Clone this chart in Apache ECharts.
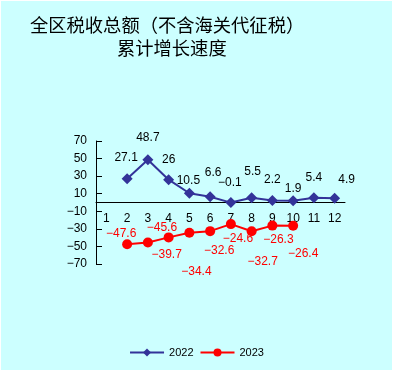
<!DOCTYPE html>
<html><head><meta charset="utf-8">
<script src="https://cdn.jsdelivr.net/npm/echarts@6/dist/echarts.min.js"></script>
<style>html,body{margin:0;padding:0;background:#fff;}#c{position:absolute;left:1px;top:1px;width:391px;height:369px;background:#CCFFFF;}</style>
</head><body><div id="c"></div>
<script>
const months = ['1','2','3','4','5','6','7','8','9','10','11','12'];
const yTicks = [-70,-50,-30,-10,10,30,50,70];
const values2022 = [null,27.1,48.7,26,10.5,6.6,-0.1,5.5,2.2,1.9,5.4,4.9];
const values2023 = [null,-47.6,-45.6,-39.7,-34.4,-32.6,-24.6,-32.7,-26.3,-26.4,null,null];
const seriesNames = ['2022','2023'];
const titleLine1 = '全区税收总额（不含海关代征税）';
const titleLine2 = '累计增长速度';

// label offsets (px) relative to each point
const off2022 = [null,[-1,-21],[0,-22],[0,-20],[-1,-13],[3,-24],[-1,-20],[1,-26],[0,-21],[0,-12],[0,-20],[12,-19]];
const off2023 = [null,[-6,-11],[14,-15],[-2,17],[7,39],[9,20],[7,15],[11,30],[6,14],[10,28]];

const font = '"Liberation Sans", Arial, sans-serif';
const fmt = v => String(v).replace('-', '\u2212');
function build(vals, offs, color) {
  return vals.map((v,i)=> v===null ? null : {
    value: v,
    label: {show:true, position:'inside', offset: offs[i], color: color, fontSize: 12, fontFamily: font,
            formatter: p => fmt(p.value)}
  });
}
const chart = echarts.init(document.getElementById('c'));
chart.setOption({
  backgroundColor: '#CCFFFF',
  animation: false,
  title: [
    {text: titleLine1, left: 29, top: 15, padding: 0, textStyle:{fontSize:18.3, fontWeight:'normal', color:'#000', fontFamily:'"Noto Sans CJK SC"'}},
    {text: titleLine2, left: 116, top: 38, padding: 0, textStyle:{fontSize:18.3, fontWeight:'normal', color:'#000', fontFamily:'"Noto Sans CJK SC"'}}
  ],
  grid: {left: 95, right: 47, top: 140, bottom: 106, containLabel:false},
  legend: {
    top: 341, left: 'center', itemGap: 6, itemWidth: 34, itemHeight: 10,
    textStyle: {fontSize: 11, color:'#000', fontFamily:'Arial, "Liberation Sans"'},
    data: seriesNames
  },
  xAxis: {
    type: 'category', data: months, boundaryGap: true, position: 'bottom', offset: -62,
    axisLine: {onZero: false, lineStyle:{color:'#000', width:1}},
    axisTick: {inside: true, length: 5, lineStyle:{color:'#000'}},
    axisLabel: {color:'#000', fontSize: 12, margin: 11, fontFamily: font}
  },
  yAxis: {
    type: 'value', min: -70, max: 70, interval: 20,
    axisLine: {show: true, lineStyle:{color:'#000'}},
    axisTick: {show: true, inside: true, length: 6, lineStyle:{color:'#000'}},
    splitLine: {show: false},
    axisLabel: {color:'#000', fontSize: 12, margin: 9, fontFamily: font, formatter: v => yTicks.includes(v) ? fmt(v) : ''}
  },
  series: [
    {name: seriesNames[0], type:'line', data: build(values2022, off2022, '#000'),
     symbol:'diamond', symbolSize: 11, connectNulls:false,
     lineStyle:{color:'#333399', width:2}, itemStyle:{color:'#333399'}},
    {name: seriesNames[1], type:'line', data: build(values2023, off2023, '#FF0000'),
     symbol:'circle', symbolSize: 10,
     lineStyle:{color:'#FF0000', width:2}, itemStyle:{color:'#FF0000'}}
  ]
});
</script></body></html>
